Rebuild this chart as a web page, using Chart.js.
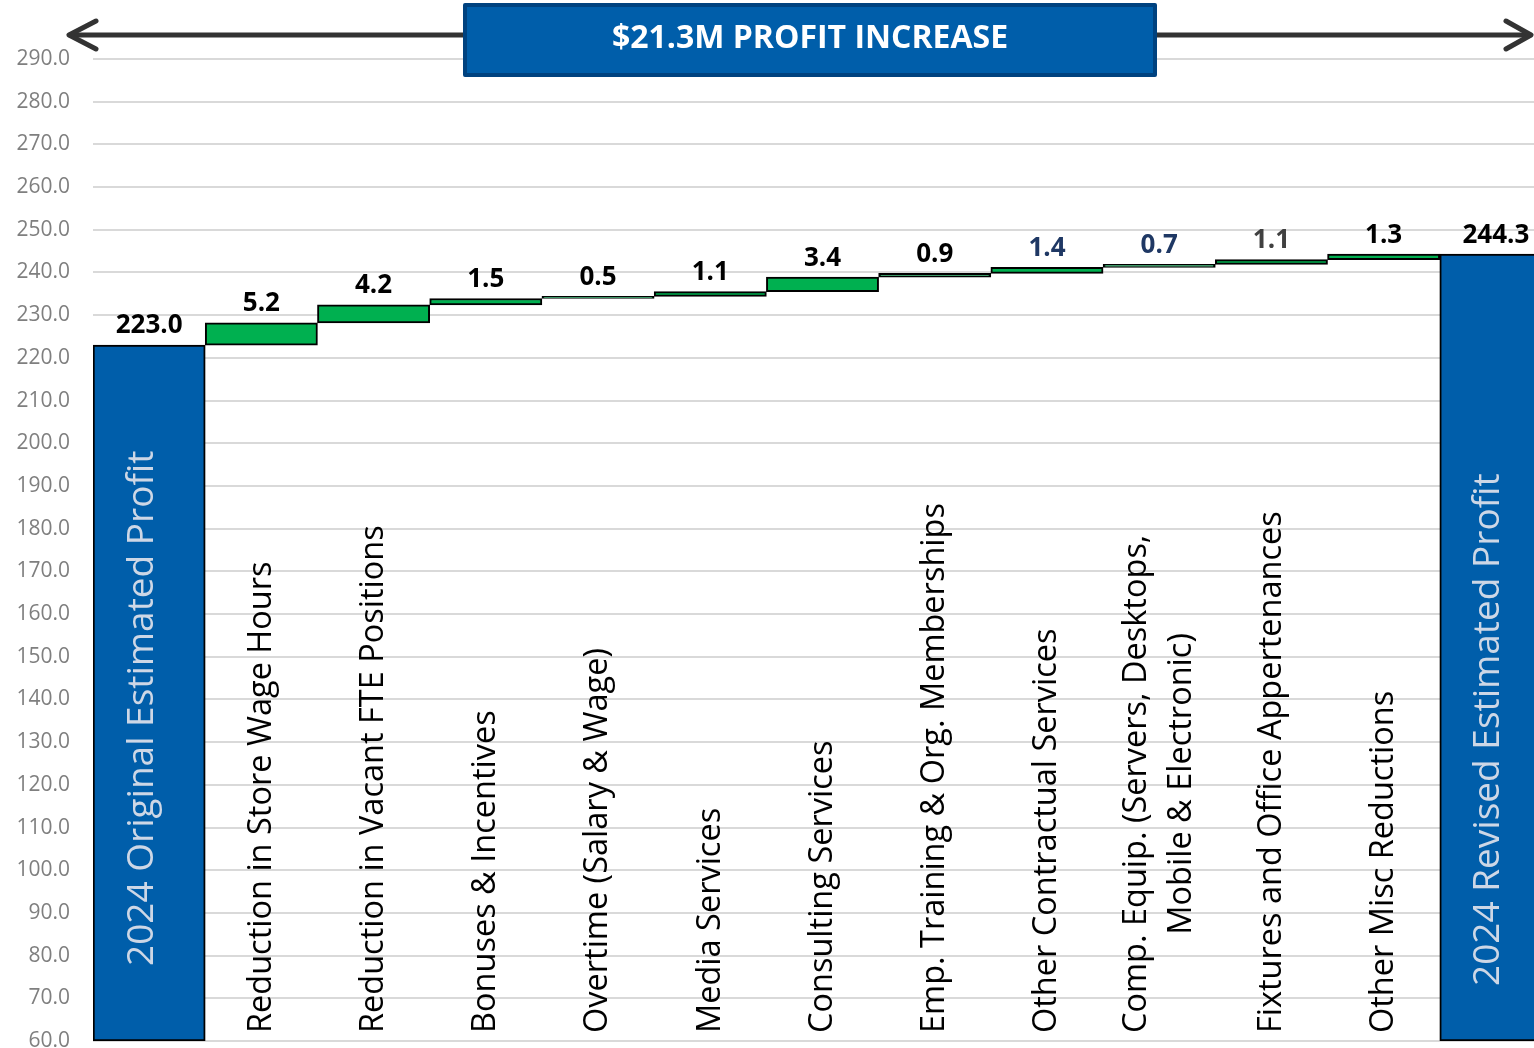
<!DOCTYPE html>
<html>
<head>
<meta charset="utf-8">
<script src="https://cdn.jsdelivr.net/npm/chart.js@4.4.1/dist/chart.umd.min.js"></script>
<style>
  html, body { margin: 0; padding: 0; background: #fff; overflow: hidden; }
  canvas { display: block; }
</style>
</head>
<body>
<!-- the plot runs a little past the right edge of the window, like the original crop -->
<canvas id="myChart" width="1552" height="1048"></canvas>
<script>
// categories of the waterfall, first and last are totals
var categories = [
    '2024 Original Estimated Profit',
    'Reduction in Store Wage Hours',
    'Reduction in Vacant FTE Positions',
    'Bonuses & Incentives',
    'Overtime (Salary & Wage)',
    'Media Services',
    'Consulting Services',
    'Emp. Training & Org. Memberships',
    'Other Contractual Services',
    ['Comp. Equip. (Servers, Desktops,', 'Mobile & Electronic)'],
    'Fixtures and Office Appertenances',
    'Other Misc Reductions',
    '2024 Revised Estimated Profit'
];
var values = [223.0, 5.2, 4.2, 1.5, 0.5, 1.1, 3.4, 0.9, 1.4, 0.7, 1.1, 1.3, 244.3];
var kinds = ['total', 'delta', 'delta', 'delta', 'delta', 'delta', 'delta', 'delta', 'delta', 'delta', 'delta', 'delta', 'total'];
var yMin = 60, yMax = 290, yStep = 10;
var bannerText = '$21.3M PROFIT INCREASE';

// label colours for the value labels (style only)
var valueLabelColors = ['#000', '#000', '#000', '#000', '#000', '#000', '#000', '#000', '#1f3864', '#1f3864', '#404040', '#000', '#000'];

var FONT = '"Open Sans", "Noto Sans", sans-serif';
var BLUE = '#005eaa';
var GREEN = '#00b050';

// floating bars: totals from the axis floor, deltas from the running sum
var ranges = [];
var running = 0;
for (var i = 0; i < values.length; i++) {
    if (kinds[i] == 'total') {
        ranges.push([yMin, values[i]]);
        running = values[i];
    } else {
        ranges.push([running, running + values[i]]);
        running = running + values[i];
    }
}

var labelsPlugin = {
    id: 'waterfallLabels',
    afterDatasetsDraw: function(chart) {
        var ctx = chart.ctx;
        var meta = chart.getDatasetMeta(0);
        var bottom = chart.chartArea.bottom;
        ctx.save();
        meta.data.forEach(function(bar, i) {
            // value above the bar
            ctx.font = 'bold 26px ' + FONT;
            ctx.fillStyle = valueLabelColors[i];
            ctx.textAlign = 'center';
            ctx.textBaseline = 'bottom';
            ctx.fillText(values[i].toFixed(1), bar.x, bar.y - 6);

            // category name, rotated
            var lines = Array.isArray(categories[i]) ? categories[i] : [categories[i]];
            var total = kinds[i] == 'total';
            ctx.font = (total ? '37px ' : '32.5px ') + FONT;
            ctx.fillStyle = total ? '#cdd7e6' : '#000';
            ctx.textBaseline = 'middle';
            var widest = 0;
            lines.forEach(function(l) { widest = Math.max(widest, ctx.measureText(l).width); });
            var n = lines.length;
            var startY = bottom - 8;
            if (total) startY = (i == 0) ? bottom - 75 : bottom - 55;
            lines.forEach(function(l, j) {
                var lx = bar.x + (total ? -7 : 0) + (j - (n - 1) / 2) * 45;
                ctx.save();
                ctx.translate(lx, startY - widest / 2);
                ctx.rotate(-Math.PI / 2);
                ctx.textAlign = 'center';
                ctx.fillText(l, 0, 0);
                ctx.restore();
            });
        });
        ctx.restore();
    },
    afterDraw: function(chart) {
        var ctx = chart.ctx;
        var ay = 35;
        ctx.save();
        // double arrow
        ctx.strokeStyle = '#333333';
        ctx.lineWidth = 5;
        ctx.lineCap = 'round';
        ctx.lineJoin = 'round';
        ctx.beginPath();
        ctx.moveTo(70, ay);
        ctx.lineTo(1530, ay);
        ctx.stroke();
        ctx.beginPath();
        ctx.moveTo(96, ay - 14);
        ctx.lineTo(69, ay);
        ctx.lineTo(96, ay + 14);
        ctx.moveTo(1506, ay - 14);
        ctx.lineTo(1531, ay);
        ctx.lineTo(1506, ay + 14);
        ctx.stroke();
        // banner box
        ctx.fillStyle = BLUE;
        ctx.strokeStyle = '#00427f';
        ctx.lineWidth = 4;
        ctx.beginPath();
        ctx.rect(465, 5, 690, 70);
        ctx.fill();
        ctx.stroke();
        ctx.fillStyle = '#fff';
        ctx.font = 'bold 32px ' + FONT;
        ctx.textAlign = 'center';
        ctx.textBaseline = 'middle';
        ctx.fillText(bannerText, 810, 39);
        ctx.restore();
    }
};

var ctx = document.getElementById('myChart').getContext('2d');
var myChart = new Chart(ctx, {
    type: 'bar',
    data: {
        labels: categories,
        datasets: [{
            data: ranges,
            backgroundColor: kinds.map(function(k) { return k == 'total' ? BLUE : GREEN; }),
            borderColor: '#000',
            borderWidth: 2,
            borderSkipped: false,
            categoryPercentage: 1.0,
            barPercentage: 1.0
        }]
    },
    options: {
        responsive: false,
        devicePixelRatio: 1,
        animation: false,
        layout: { padding: { top: 59, bottom: 7, left: 0, right: 0 } },
        plugins: {
            legend: { display: false },
            tooltip: { enabled: false }
        },
        scales: {
            x: { display: false },
            y: {
                min: yMin,
                max: yMax,
                border: { display: false },
                grid: { color: '#d9d9d9', lineWidth: 2, drawTicks: false },
                ticks: {
                    stepSize: yStep,
                    padding: 23,
                    color: '#7f7f7f',
                    font: { family: FONT, size: 21 },
                    callback: function(v) { return v.toFixed(1); }
                },
                afterFit: function(s) {
                    s.width = 93;
                    s.paddingTop = 0;
                    s.paddingBottom = 0;
                }
            }
        }
    },
    plugins: [labelsPlugin]
});
</script>
</body>
</html>
